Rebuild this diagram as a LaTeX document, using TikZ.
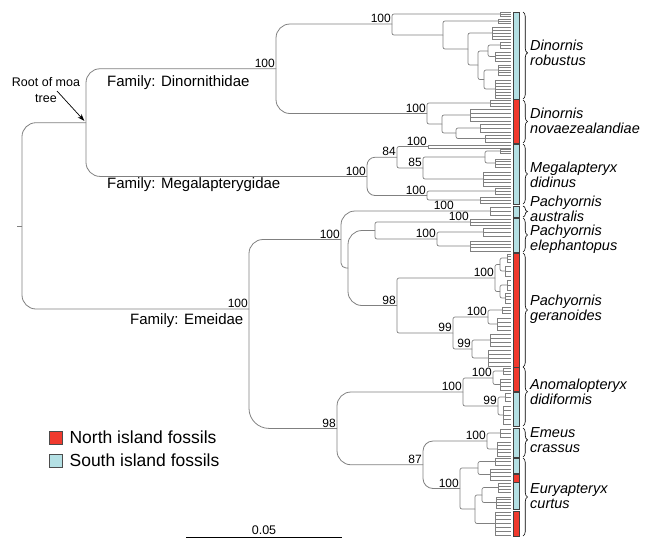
\documentclass[tikz,border=0pt]{standalone}
\usepackage{fontspec}
\setmainfont{Liberation Sans}
\usetikzlibrary{positioning,arrows.meta,decorations.pathreplacing}

\definecolor{norte}{RGB}{240,58,46}
\definecolor{sur}{RGB}{180,224,228}
\definecolor{linea}{RGB}{128,128,128}

\newcommand\puntax{511}
% \rama{px}{py}{cx}{cy}: branch from a node down/up to a child node
\newcommand\rama[4]{\draw[rama] (#1,#2) |- (#3,#4);}
% \puas{x}{y0}{y1}{n}: n+1 tips hanging off one node
\newcommand\puas[4]{%
  \draw[rama] (#1,#2) -- (#1,#3);
  \foreach \k in {0,...,#4}{%
    \pgfmathsetmacro\yy{#2+(#3-#2)*\k/#4}
    \draw[rama] (#1,\yy) -- (\puntax,\yy);}}
% \peine{px}{py}{x}{y0}{y1}{n}: branch to a node with n+1 tips
\newcommand\peine[6]{%
  \draw[rama] (#1,#2) |- (#3,{(#4+#5)/2});
  \puas{#3}{#4}{#5}{#6}}

\begin{document}
\begin{tikzpicture}[x=1pt, y=-1pt,
    rama/.style={draw=linea, line width=0.7pt, rounded corners=2pt},
    tronco/.style={draw=linea, line width=0.8pt, rounded corners=14pt},
    apoyo/.style={anchor=south east, inner sep=1pt, font=\fontsize{12}{12}\selectfont},
    barra/.style={draw=black!75, line width=0.6pt},
    llave/.style={decorate, draw=black, line width=0.6pt},
    especie/.style={anchor=west, align=left, inner sep=0pt,
                    font=\itshape\fontsize{14.5}{15}\selectfont},
    familia/.style={anchor=west, inner sep=0pt, font=\fontsize{15}{15}\selectfont},
    cuadro/.style={draw=black!70, line width=0.8pt, minimum size=13pt, inner sep=0pt},
    leyenda/.style={inner sep=1pt, font=\fontsize{17.5}{18}\selectfont},
    flecha/.style={-{Stealth[length=7pt, width=5pt]}, line width=0.7pt}
]
\useasboundingbox (0,0) rectangle (648,539);

% backbone nodes
\coordinate (cepa)  at (17,226);
\coordinate (raiz)  at (22,226);
\coordinate (moa)   at (86,122.7);
\coordinate (dino)  at (276,68.75);
\coordinate (robu)  at (392,24);
\coordinate (nova)  at (427,113.5);
\coordinate (mega)  at (367,176.4);
\coordinate (n84)   at (397,157.25);
\coordinate (m100)  at (427,195.5);
\coordinate (emei)  at (249,309);
\coordinate (pach)  at (341,239.5);
\coordinate (aust)  at (490,211);
\coordinate (pach2) at (348,268);
\coordinate (elep)  at (375,230.5);
\coordinate (gera)  at (397,305.5);
\coordinate (n98)   at (337,428.4);
\coordinate (anom)  at (463,392);
\coordinate (n87)   at (423,464.75);
\coordinate (emeu)  at (487,441);
\coordinate (eury)  at (460,488.5);

\draw[tronco] (cepa) -- (raiz);
\draw[tronco] (raiz) |- (moa);
\draw[tronco] (raiz) |- (emei);
\draw[tronco] (moa) |- (dino);
\draw[tronco] (moa) |- (mega);
\draw[tronco] (dino) |- (robu);
\draw[tronco] (dino) |- (nova);
\draw[tronco, rounded corners=8pt] (mega) |- (n84);
\draw[tronco, rounded corners=8pt] (mega) |- (m100);
\draw[tronco] (emei) |- (pach);
\draw[tronco, rounded corners=20pt] (emei) |- (n98);
\draw[tronco] (pach) |- (aust);
\draw[tronco, rounded corners=5pt] (pach) |- (pach2);
\draw[tronco] (pach2) |- (elep);
\draw[tronco] (pach2) |- (gera);
\draw[tronco] (n98) |- (anom);
\draw[tronco] (n98) |- (n87);
\draw[tronco, rounded corners=10pt] (n87) |- (emeu);
\draw[tronco, rounded corners=10pt] (n87) |- (eury);

% Dinornis robustus
\peine{392}{24}{500}{12}{16}{2}
\rama{392}{24}{443}{35}
\peine{443}{35}{498}{19}{23}{2}
\rama{443}{35}{468}{49}
\peine{468}{49}{492}{27}{39}{4}
\rama{468}{49}{478}{65}
\rama{478}{65}{488}{51}
\peine{488}{51}{500}{42}{48}{2}
\peine{488}{51}{495}{52}{61}{3}
\rama{478}{65}{484}{79.5}
\peine{484}{79.5}{498}{65}{75}{4}
\peine{484}{79.5}{495}{80}{98}{6}
% Dinornis novaezealandiae
\peine{427}{113.5}{490}{100}{106}{2}
\rama{427}{113.5}{442}{124}
\peine{442}{124}{470}{109}{121}{3}
\rama{442}{124}{456}{133}
\peine{456}{133}{480}{124}{132}{2}
\peine{456}{133}{485}{135}{142}{2}
% Megalapteryx didinus
\peine{397}{157.25}{428}{145}{148}{1}
\rama{397}{157.25}{423}{168}
\rama{423}{168}{485}{157}
\peine{485}{157}{500}{149}{153}{2}
\peine{485}{157}{495}{159}{167}{3}
\peine{423}{168}{483}{172}{186}{4}
\peine{427}{195.5}{495}{188}{194}{2}
\peine{427}{195.5}{480}{197}{203}{2}
% Pachyornis australis
\puas{490}{207}{215}{2}
% Pachyornis elephantopus
\peine{375}{230.5}{470}{219}{225}{2}
\rama{375}{230.5}{437}{239}
\peine{437}{239}{483}{228}{236}{2}
\peine{437}{239}{470}{241}{251}{3}
% Pachyornis geranoides
\rama{397}{305.5}{495}{278}
\rama{495}{278}{500}{264.5}
\peine{500}{264.5}{507}{254}{262}{3}
\peine{500}{264.5}{505}{266}{276}{2}
\rama{495}{278}{500}{291.5}
\peine{500}{291.5}{507}{280}{290}{2}
\peine{500}{291.5}{505}{293}{303}{3}
\rama{397}{305.5}{453}{333}
\rama{453}{333}{488}{317}
\peine{488}{317}{502}{307}{313}{2}
\peine{488}{317}{497}{318}{330}{3}
\rama{453}{333}{472}{349}
\peine{472}{349}{490}{334}{346}{3}
\peine{472}{349}{488}{350}{366}{4}
% Anomalopteryx didiformis
\rama{463}{392}{493}{378}
\peine{493}{378}{503}{368}{374}{2}
\peine{493}{378}{500}{379}{390}{3}
\rama{463}{392}{498}{406}
\peine{498}{406}{505}{393}{401}{2}
\peine{498}{406}{503}{406}{424}{4}
% Emeus crassus
\peine{487}{441}{500}{429}{437}{2}
\peine{487}{441}{497}{442}{456}{4}
% Euryapteryx curtus
\rama{460}{488.5}{478}{468}
\peine{478}{468}{495}{458}{465}{2}
\peine{478}{468}{490}{469}{480}{3}
\rama{460}{488.5}{475}{509}
\rama{475}{509}{482}{495}
\peine{482}{495}{498}{483}{492}{3}
\peine{482}{495}{496}{497}{508}{4}
\peine{475}{509}{495}{512}{535}{6}

% bootstrap support
\node[apoyo] at (dino) {100};
\node[apoyo] at (robu) {100};
\node[apoyo] at (nova) {100};
\node[apoyo] at (mega) {100};
\node[apoyo] at (n84) {84};
\node[apoyo] at (428,146.5) {100};
\node[apoyo] at (423,168) {85};
\node[apoyo] at (m100) {100};
\node[apoyo] at (455,211) {100};
\node[apoyo] at (emei) {100};
\node[apoyo] at (pach) {100};
\node[apoyo] at (470,222) {100};
\node[apoyo] at (437,239) {100};
\node[apoyo] at (gera) {98};
\node[apoyo] at (495,278) {100};
\node[apoyo] at (453,333) {99};
\node[apoyo] at (488,317) {100};
\node[apoyo] at (472,349) {99};
\node[apoyo] at (n98) {98};
\node[apoyo] at (anom) {100};
\node[apoyo] at (493,378) {100};
\node[apoyo] at (498,406) {99};
\node[apoyo] at (n87) {87};
\node[apoyo] at (emeu) {100};
\node[apoyo] at (eury) {100};

% island bar
\foreach \a/\b/\c in {12/99/sur, 99/143/norte, 144/204/sur, 206/217/sur,
    218/252/sur, 253/367/norte, 367/391/norte, 392/426/sur, 428/457/sur,
    458/473/sur, 474/482/norte, 482/509/sur, 511/536/norte}
  \draw[barra, fill=\c] (513,\a) rectangle (519,\b);

% species braces
\foreach \a/\b/\s in {12/99/0.47, 100/143/0.5, 144/204/0.5, 206/217/0.5,
    218/252/0.5, 253/367/0.5, 367/426/0.42, 428/457/0.41, 458/536/0.5}
  \draw[llave, decoration={brace, amplitude=4.5pt, aspect=\s}] (523,\a) -- (523,\b);

\node[especie] (robustus) at (530,52.5)  {Dinornis\\robustus};
\node[especie] (novae)    at (530,120.5) {Dinornis\\novaezealandiae};
\node[especie] (didinus)  at (530,174.5) {Megalapteryx\\didinus};
\node[especie] (austr)    at (530,208.5) {Pachyornis\\australis};
\node[especie] (elepha)   at (530,239)   {Pachyornis\\elephantopus};
\node[especie] (gerano)   at (530,309)   {Pachyornis\\geranoides};
\node[especie] (didif)    at (530,392)   {Anomalopteryx\\didiformis};
\node[especie] (crassus)  at (530,440)   {Emeus\\crassus};
\node[especie] (curtus)   at (530,496)   {Euryapteryx\\curtus};

% families
\node[familia] (fdino) at (107,83)  {Family: Dinornithidae};
\node[familia] (fmega) at (107,185) {Family: Megalapterygidae};
\node[familia] (femei) at (130,321) {Family: Emeidae};

% root pointer
\node[align=center, inner sep=0pt, font=\fontsize{12.5}{15.5}\selectfont]
    (raizlbl) at (46,90) {Root of moa\\tree};
\coordinate (cola) at (57,91);
\draw[flecha, shorten >=2.5pt] (cola) -- (moa);

% legend
\node[cuadro, fill=norte] (cnorte) at (55.5,437.5) {};
\node[leyenda, right=6pt of cnorte] (tnorte) {North island fossils};
\node[cuadro, fill=sur]   (csur)   at (55.5,460.5) {};
\node[leyenda, right=6pt of csur]   (tsur)   {South island fossils};

% scale
\coordinate (escA) at (186,537);
\coordinate (escB) at (342,537);
\draw[line width=0.9pt] (escA) -- node[above, inner sep=1.5pt,
    font=\fontsize{12.5}{12.5}\selectfont] (escala) {0.05} (escB);

\end{tikzpicture}
\end{document}
